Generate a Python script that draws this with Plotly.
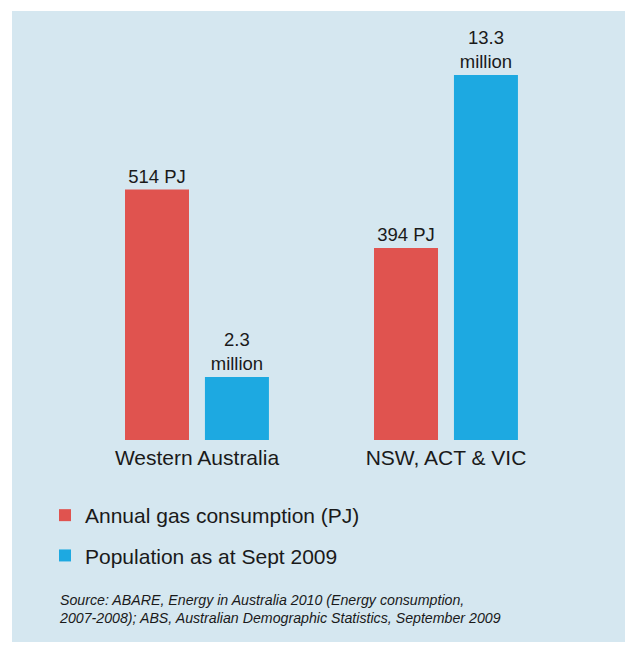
import plotly.graph_objects as go

# Regions compared
regions = ["Western Australia", "NSW, ACT & VIC"]
# Annual gas consumption, petajoules
gas_pj = [514, 394]
# Population at September 2009, millions
population_m = [2.3, 13.3]

RED = "#E0534F"
BLUE = "#1DA9E1"
PANEL = "#D5E7F0"
TEXT = "#1A1A1A"
FONT = "Liberation Sans, Arial, Helvetica, sans-serif"

W, H = 629, 656
bar_w = 0.257

fig = go.Figure()

fig.add_trace(go.Bar(
    x=regions, y=gas_pj, name="Annual gas consumption (PJ)",
    marker=dict(color=RED, line=dict(width=0)),
    width=bar_w, offset=-0.289,
    texttemplate="%{y} PJ", textposition="outside",
    textfont=dict(size=18.5, color=TEXT, family=FONT),
    cliponaxis=False, yaxis="y", legendgroup="gas",
))
fig.add_trace(go.Bar(
    x=regions, y=population_m, name="Population as at Sept 2009",
    marker=dict(color=BLUE, line=dict(width=0)),
    width=bar_w, offset=0.032,
    texttemplate="%{y}<br>million", textposition="outside",
    textfont=dict(size=18.5, color=TEXT, family=FONT),
    cliponaxis=False, yaxis="y2", legendgroup="pop",
))

baseline_px = 440
fig.update_layout(
    width=W, height=H,
    margin=dict(l=0, r=0, t=0, b=0),
    paper_bgcolor="white",
    plot_bgcolor="rgba(0,0,0,0)",
    barmode="overlay",
    font=dict(family=FONT, color=TEXT),
    xaxis=dict(
        domain=[0, 1], range=[-0.791, 1.735],
        showgrid=False, zeroline=False, showline=False, ticks="",
        tickfont=dict(size=21, color=TEXT, family=FONT),
        ticklabelstandoff=3,
    ),
    yaxis=dict(
        domain=[1 - baseline_px / H, 1], range=[0, baseline_px / 0.4873],
        visible=False, showgrid=False, zeroline=False,
    ),
    yaxis2=dict(
        domain=[1 - baseline_px / H, 1], range=[0, baseline_px / 27.44],
        overlaying="y", visible=False, showgrid=False, zeroline=False,
    ),
    showlegend=True,
    legend=dict(
        x=45 / W, xanchor="left", y=1 - 495 / H, yanchor="top",
        orientation="v", traceorder="grouped", tracegroupgap=10,
        font=dict(size=21, color=TEXT, family=FONT),
        bgcolor="rgba(0,0,0,0)",
    ),
    shapes=[dict(
        type="rect", xref="paper", yref="paper", layer="below",
        x0=12 / W, x1=625 / W, y0=1 - 642 / H, y1=1 - 11 / H,
        fillcolor=PANEL, line=dict(width=0),
    )],
    annotations=[dict(
        xref="paper", yref="paper", x=57 / W, y=1 - 590 / H,
        xanchor="left", yanchor="top", align="left", showarrow=False,
        text="<i>Source: ABARE, Energy in Australia 2010 (Energy consumption,<br>"
             "2007-2008); ABS, Australian Demographic Statistics, September 2009</i>",
        font=dict(size=14.2, color=TEXT, family=FONT),
    )],
)

fig.write_html("out.html")
